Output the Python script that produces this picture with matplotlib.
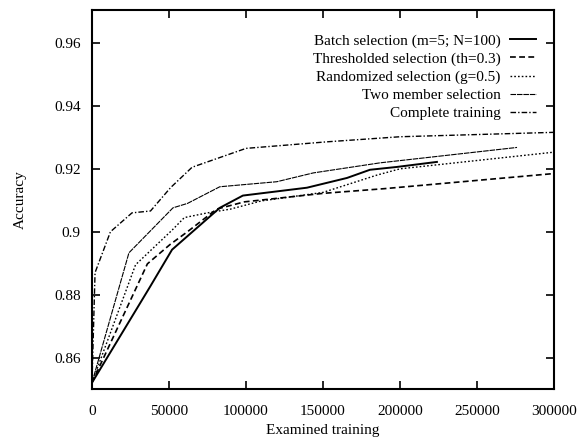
import matplotlib
matplotlib.use("Agg")
import matplotlib.pyplot as plt

plt.rcParams['font.family'] = ['Liberation Serif', 'DejaVu Serif']

batch_x = [0, 37700, 52000, 83000, 98000, 139600, 165600, 180500, 198000, 224000]
batch_y = [0.852, 0.8825, 0.8943, 0.9076, 0.9115, 0.9140, 0.9171, 0.9197, 0.9206, 0.9222]

thr_x = [0, 36000, 50600, 62000, 81000, 99000, 150000, 190000, 300000]
thr_y = [0.852, 0.8898, 0.8959, 0.9000, 0.9072, 0.9095, 0.9122, 0.9137, 0.9185]

rnd_x = [0, 28300, 52000, 60000, 75000, 90000, 110000, 150000, 185000, 200000, 300000]
rnd_y = [0.852, 0.8895, 0.9005, 0.9045, 0.9060, 0.9072, 0.9098, 0.9125, 0.9180, 0.9200, 0.9253]

two_x = [0, 24000, 52600, 62000, 83000, 120000, 143700, 187000, 276000]
two_y = [0.852, 0.8933, 0.9076, 0.9090, 0.9143, 0.9159, 0.9187, 0.9219, 0.9268]

cmp_x = [0, 2000, 12000, 26000, 38000, 51000, 65000, 100000, 153000, 200000, 300000]
cmp_y = [0.852, 0.887, 0.900, 0.906, 0.9066, 0.9140, 0.9205, 0.9265, 0.9286, 0.9302, 0.9316]

labels = ["Batch selection (m=5; N=100)", "Thresholded selection (th=0.3)",
          "Randomized selection (g=0.5)", "Two member selection", "Complete training"]

xticks = [0, 50000, 100000, 150000, 200000, 250000, 300000]
yticks = [0.86, 0.88, 0.90, 0.92, 0.94, 0.96]
ytick_labels = ["0.86", "0.88", "0.9", "0.92", "0.94", "0.96"]

fig = plt.figure(figsize=(5.77, 4.40), dpi=100)
ax = fig.add_axes([0.1594, 0.1159, 0.8007, 0.8614])

ax.plot(batch_x, batch_y, color='black', lw=1.4, ls='-', label=labels[0])
ax.plot(thr_x, thr_y, color='black', lw=1.2, ls=(0, (3.5, 2)), label=labels[1])
ax.plot(rnd_x, rnd_y, color='black', lw=1.0, ls=(0, (1.2, 1.5)), label=labels[2])
ax.plot(two_x, two_y, color='black', lw=0.8, ls=(0, (5, 0.8)), label=labels[3])
ax.plot(cmp_x, cmp_y, color='black', lw=1.0, ls=(0, (4, 1.5, 1, 1.5)), label=labels[4])

ax.set_xlim(0, 300000)
ax.set_ylim(0.85, 0.9705)
ax.set_xticks(xticks)
ax.set_xticklabels([str(t) for t in xticks])
ax.set_yticks(yticks)
ax.set_yticklabels(ytick_labels)
ax.tick_params(direction='in', length=6, width=1.2, top=True, right=True,
               labelsize=11)
ax.tick_params(axis='x', pad=11.5)
ax.tick_params(axis='y', pad=8)
for s in ax.spines.values():
    s.set_linewidth(1.5)

ax.set_xlabel("Examined training", fontsize=11, labelpad=4)
ax.set_ylabel("Accuracy", fontsize=11, labelpad=20)

leg = ax.legend(loc='upper right', frameon=False, markerfirst=False,
                fontsize=11, handlelength=1.7, handletextpad=0.65,
                labelspacing=0.28, borderaxespad=0.3, bbox_to_anchor=(0.985, 0.965))
for t in leg.get_texts():
    t.set_ha('right')

fig.savefig("out.png", dpi=100)
